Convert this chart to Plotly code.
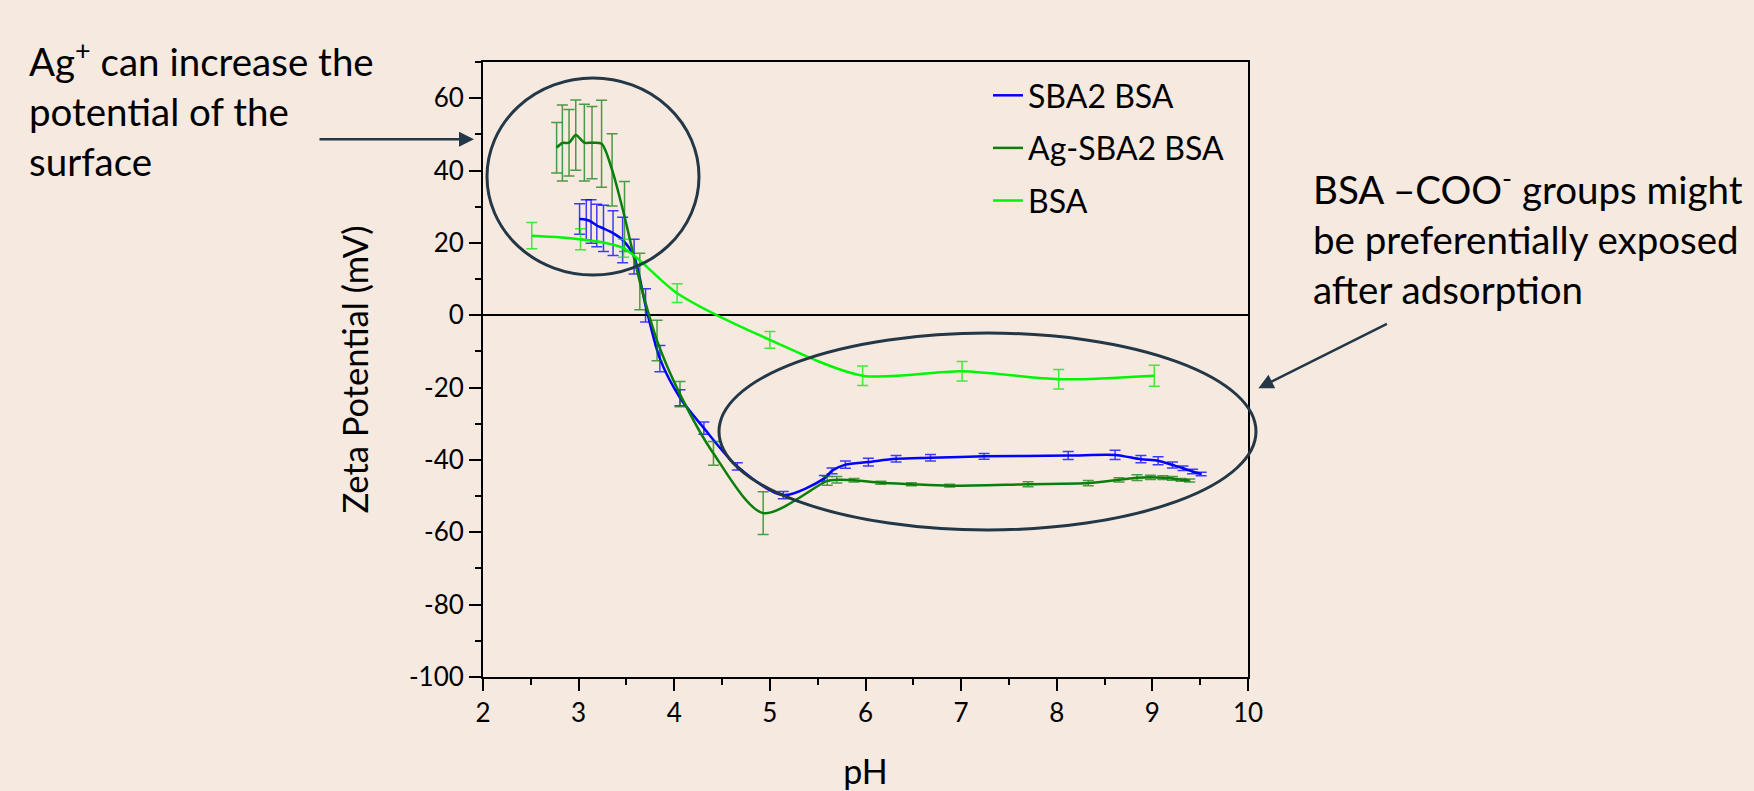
import plotly.graph_objects as go

# ---------------- data ----------------
sba2_ph = [3.01, 3.08, 3.13, 3.19, 3.26, 3.36, 3.46, 3.58, 3.70, 3.85, 4.06, 4.31, 4.66,
           5.14, 5.57, 5.65, 5.79, 6.03, 6.32, 6.68, 7.24, 8.12, 8.61, 8.88, 9.06, 9.21,
           9.32, 9.42, 9.51]
sba2_zeta = [26.6, 26.4, 25.9, 24.8, 24.0, 22.7, 20.8, 16.2, 2.7, -12.0, -22.8, -31.2, -41.8,
             -49.7, -45.1, -43.0, -41.3, -40.6, -39.7, -39.4, -39.0, -38.8, -38.6, -39.8, -40.2,
             -41.4, -42.3, -43.2, -43.9]
sba2_err = [4.2, 5.5, 6.0, 5.9, 6.4, 6.2, 6.3, 4.8, 4.6, 3.6, 2.2, 1.7, 1.0,
            1.0, 0.8, 0.8, 1.0, 1.1, 0.9, 0.9, 0.8, 1.1, 1.3, 1.0, 1.1,
            0.8, 0.6, 0.6, 0.5]

ag_ph = [2.77, 2.83, 2.90, 2.97, 3.06, 3.14, 3.24, 3.35, 3.48, 3.64, 3.82, 4.06, 4.41,
         4.93, 5.60, 5.70, 5.88, 6.16, 6.48, 6.88, 7.70, 8.33, 8.65, 8.84, 8.98, 9.11,
         9.21, 9.30, 9.39]
ag_zeta = [46.3, 47.6, 47.7, 49.8, 47.7, 47.7, 47.4, 40.2, 27.3, 9.3, -7.0, -21.8, -38.2,
           -54.7, -45.8, -45.5, -45.6, -46.3, -46.7, -47.1, -46.7, -46.4, -45.5, -44.9, -44.8,
           -44.9, -45.1, -45.5, -45.7]
ag_err = [7.0, 10.5, 9.2, 9.7, 10.6, 10.0, 12.0, 10.0, 9.7, 7.8, 5.6, 3.5, 3.3,
          5.9, 1.2, 0.9, 0.5, 0.4, 0.4, 0.4, 0.7, 0.7, 0.6, 0.8, 0.6, 0.5,
          0.5, 0.4, 0.4]

bsa_ph = [2.51, 3.02, 3.47, 4.03, 5.00, 5.97, 7.01, 8.02, 9.02]
bsa_zeta = [22.0, 21.0, 18.5, 6.1, -6.8, -16.7, -15.5, -17.7, -16.7]
bsa_err = [3.6, 2.9, 2.5, 2.6, 2.3, 2.7, 2.7, 2.7, 2.9]

series_names = ["SBA2 BSA", "Ag-SBA2 BSA", "BSA"]
x_ticks = [2, 3, 4, 5, 6, 7, 8, 9, 10]
y_ticks = [-100, -80, -60, -40, -20, 0, 20, 40, 60]

# ---------------- styling ----------------
BG = "#F5E9E0"
FONT = "Lato"
DARK = "#233746"

W, H = 1754, 791
ML, MR, MT, MB = 483, 506, 62, 114
PW, PH = W - ML - MR, H - MT - MB


def px(X):
    return (X - ML) / PW


def py(Y):
    return (H - MB - Y) / PH


fig = go.Figure()

series = [
    (sba2_ph, sba2_zeta, sba2_err, "#0000FF", "rgba(0,0,255,0.75)"),
    (ag_ph, ag_zeta, ag_err, "#0A7D0A", "rgba(10,125,10,0.72)"),
    (bsa_ph, bsa_zeta, bsa_err, "#00F500", "rgba(0,235,0,0.75)"),
]
for name, (xs, ys, es, col, ecol) in zip(series_names, series):
    fig.add_trace(go.Scatter(
        x=xs, y=ys, name=name, mode="lines", legendgroup=name,
        line=dict(color=col, width=2.5, shape="spline", smoothing=0.8),
        error_y=dict(type="data", array=es, visible=True, color=ecol,
                     thickness=1.5, width=5.5),
    ))

axis_common = dict(
    showline=True, linecolor="black", linewidth=2, mirror=True,
    ticks="outside", ticklen=12, tickwidth=2, tickcolor="black",
    showgrid=False, automargin=False,
    tickfont=dict(family=FONT, size=26, color="black"),
)

fig.update_xaxes(
    range=[2, 10], tickvals=x_ticks, ticktext=[str(v) for v in x_ticks],
    minor=dict(dtick=0.5, ticks="outside", ticklen=6, tickwidth=2, tickcolor="black"),
    title=dict(text="pH", font=dict(family=FONT, size=34, color="black"), standoff=46),
    zeroline=False, **axis_common,
)
fig.update_yaxes(
    range=[-100, 70], tickvals=y_ticks, ticktext=[str(v) for v in y_ticks],
    minor=dict(dtick=10, ticks="outside", ticklen=6, tickwidth=2, tickcolor="black"),
    title=dict(text="Zeta Potential (mV)", font=dict(family=FONT, size=34.5, color="black"),
               standoff=30),
    zeroline=True, zerolinecolor="black", zerolinewidth=2,
    **axis_common,
)

# ellipses
fig.add_shape(type="circle", xref="paper", yref="paper",
              x0=px(487), x1=px(699), y0=py(275), y1=py(78),
              line=dict(color=DARK, width=3))
fig.add_shape(type="circle", xref="paper", yref="paper",
              x0=px(719), x1=px(1256), y0=py(530), y1=py(333),
              line=dict(color=DARK, width=3))

# arrows
fig.add_annotation(xref="paper", yref="paper", x=px(474), y=py(139.3), text="",
                   showarrow=True, ax=-156, ay=0, arrowhead=2, arrowsize=1.2,
                   arrowwidth=2.5, arrowcolor=DARK)
fig.add_annotation(xref="paper", yref="paper", x=px(1258.4), y=py(388.2), text="",
                   showarrow=True, ax=130, ay=-65, arrowhead=2, arrowsize=1.2,
                   arrowwidth=2.5, arrowcolor=DARK)

# text annotations
fig.add_annotation(xref="paper", yref="paper", x=px(27), y=py(108),
                   xanchor="left", yanchor="middle", align="left", showarrow=False,
                   text="Ag<sup>+</sup> can increase the<br>potential of the<br>surface",
                   font=dict(family=FONT, size=38.5, color="black"))
fig.add_annotation(xref="paper", yref="paper", x=px(1311), y=py(236),
                   xanchor="left", yanchor="middle", align="left", showarrow=False,
                   text="BSA \u2013COO<sup>-</sup> groups might<br>be preferentially exposed<br>after adsorption",
                   font=dict(family=FONT, size=38.5, color="black"))

fig.update_layout(
    width=W, height=H,
    margin=dict(l=ML, r=MR, t=MT, b=MB, pad=0, autoexpand=False),
    paper_bgcolor=BG, plot_bgcolor=BG,
    font=dict(family=FONT, color="black"),
    showlegend=True,
    legend=dict(x=px(988), y=py(68), xanchor="left", yanchor="top",
                bgcolor="rgba(0,0,0,0)", borderwidth=0,
                font=dict(family=FONT, size=32, color="black"),
                tracegroupgap=8, traceorder="grouped"),
)

fig.write_html(
    "out.html",
    config={"displayModeBar": False},
    post_script="document.body.style.margin='0';document.body.style.padding='0';"
                "document.body.style.background='" + BG + "';",
)
